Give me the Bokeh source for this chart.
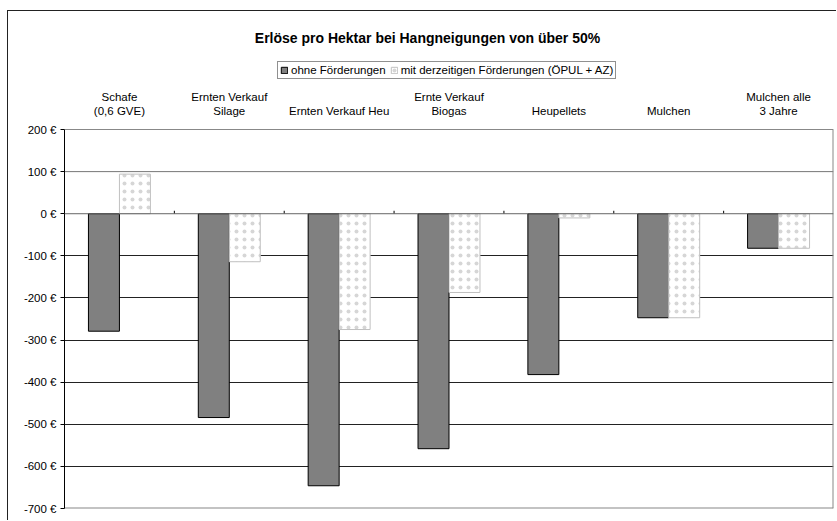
from bokeh.plotting import figure
from bokeh.models import (FactorRange, Range1d, Legend, LegendItem, Span, Label,
                          ColumnDataSource, FixedTicker)
from bokeh.transform import dodge
from bokeh.core.properties import value
from bokeh.embed import file_html
from bokeh.resources import INLINE

# ---- data ----
categories = ["Schafe (0,6 GVE)", "Ernten Verkauf Silage", "Ernten Verkauf Heu",
              "Ernte Verkauf Biogas", "Heupellets", "Mulchen", "Mulchen alle 3 Jahre"]
label_line1 = ["Schafe", "Ernten Verkauf", "", "Ernte Verkauf", "", "", "Mulchen alle"]
label_line2 = ["(0,6 GVE)", "Silage", "Ernten Verkauf Heu", "Biogas", "Heupellets",
               "Mulchen", "3 Jahre"]
ohne_foerderungen = [-279, -484, -646, -558, -382, -247, -82]
mit_foerderungen = [94, -114, -275, -187, -10, -247, -82]
y_ticks = [200, 100, 0, -100, -200, -300, -400, -500, -600, -700]
series_names = ["ohne Förderungen", "mit derzeitigen Förderungen (ÖPUL + AZ)"]
title_text = "Erlöse pro Hektar bei Hangneigungen von über 50%"

FONT = "Liberation Sans"
FS = "11.5px"

# layout (pixels): canvas height, bottom border, space above the plot area for title/legend/labels
H, BOTTOM, HEADER = 510, 13, 118
plot_px = H - BOTTOM - HEADER
y_min, y_max = min(y_ticks), max(y_ticks)
y_top = y_max + (y_max - y_min) * HEADER / plot_px

p = figure(x_range=FactorRange(*categories), y_range=Range1d(y_min, y_top),
           width=829, height=H, output_backend="svg", toolbar_location=None,
           x_axis_location=None, title=None,
           min_border_left=56, min_border_right=4, min_border_top=0, min_border_bottom=BOTTOM)
p.styles = {"border-top": "1px solid #222", "border-left": "1px solid #222",
            "margin-top": "10px", "margin-left": "7px"}
p.x_range.range_padding = 0
p.outline_line_color = None

ya = p.yaxis[0]
ya.ticker = FixedTicker(ticks=y_ticks)
ya.bounds = (y_min, y_max)
ya.major_label_overrides = {t: f"{t} €" for t in y_ticks}
ya.axis_line_color = "black"
ya.major_tick_out = 4
ya.major_tick_in = 0
ya.major_tick_line_color = "black"
ya.minor_tick_line_color = None
ya.major_label_standoff = 4
ya.major_label_text_font = FONT
ya.major_label_text_font_size = FS
ya.major_label_text_color = "black"

p.xgrid.visible = False
p.ygrid.ticker = FixedTicker(ticks=[t for t in y_ticks if y_min < t < 0])
p.ygrid.grid_line_color = "#222222"
p.add_layout(Span(location=100, dimension="width", line_color="#777777", line_width=1, level="underlay"))

# plot-area border (top, right, bottom) in grey
n = len(categories)
p.segment(x0=[0], x1=[n], y0=[y_max], y1=[y_max], line_color="#888888", line_width=1)
p.segment(x0=[0], x1=[n], y0=[y_min], y1=[y_min], line_color="#888888", line_width=2)
p.segment(x0=[n], x1=[n], y0=[y_min], y1=[y_max], line_color="#888888", line_width=2)

src = ColumnDataSource(dict(cat=categories, ohne=ohne_foerderungen, mit=mit_foerderungen,
                            l1=label_line1, l2=label_line2, ytop=[y_max] * n))

W = 0.282
r1 = p.vbar(x=dodge("cat", -W / 2, range=p.x_range), top="ohne", bottom=0, width=W, source=src,
            fill_color="#808080", line_color="black", line_width=1)
r2 = p.vbar(x=dodge("cat", W / 2, range=p.x_range), top="mit", bottom=0, width=W, source=src,
            fill_color="white", line_color="#c0c0c0", line_width=1,
            hatch_pattern="dot", hatch_color="#d6d6d6", hatch_scale=8, hatch_weight=0.5)

# zero line and category boundary ticks
p.add_layout(Span(location=0, dimension="width", line_color="#666666", line_width=1))
bounds = list(range(1, n))
p.segment(x0=bounds, x1=bounds, y0=[0] * len(bounds), y1=[7] * len(bounds),
          line_color="black", line_width=1)

# category labels above the plot area (two lines)
for col, off in (("l2", -12.5), ("l1", -26.5)):
    p.text(x="cat", y="ytop", text=col, source=src, y_offset=off,
           text_align="center", text_baseline="bottom",
           text_font=value(FONT), text_font_size=value(FS), text_color="black")

legend = Legend(items=[LegendItem(label=series_names[0], renderers=[r1]),
                       LegendItem(label=series_names[1], renderers=[r2])],
                orientation="horizontal", location=(213, 429),
                border_line_color="#222222", border_line_width=1,
                padding=2, spacing=4, margin=0, glyph_width=8, glyph_height=8,
                label_height=12, label_standoff=3,
                label_text_font=FONT, label_text_font_size=FS, label_text_color="black",
                background_fill_color="white", background_fill_alpha=1)
p.add_layout(legend)

p.add_layout(Label(x=363, y=471, x_units="screen", y_units="screen", text=title_text,
                   text_font=FONT, text_font_size="14px", text_font_style="bold",
                   text_align="center", text_baseline="middle", text_color="black"))

open("out.html", "w").write(file_html(p, INLINE))
